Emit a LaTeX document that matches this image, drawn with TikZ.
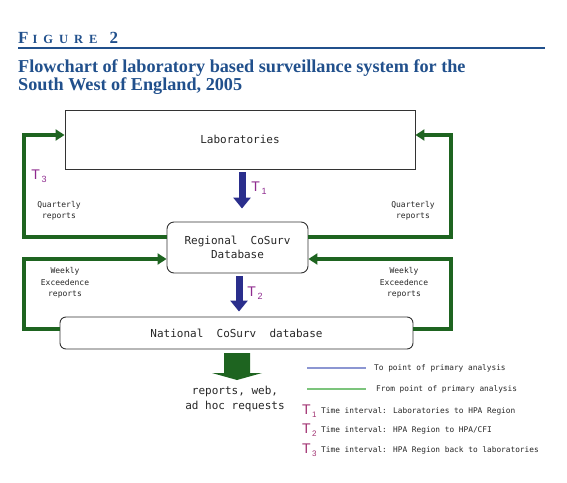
\documentclass[tikz,border=0pt]{standalone}
\usepackage{fontspec}
\setmainfont{Liberation Serif}
\newfontfamily\monof{DejaVu Sans Mono}
\newfontfamily\tfont{Liberation Sans}
\usetikzlibrary{arrows.meta,calc}
\definecolor{ttl}{HTML}{21508C}
\definecolor{grn}{HTML}{1E6420}
\definecolor{blu}{HTML}{2A2E8C}
\definecolor{purp}{HTML}{8E2A8E}
\definecolor{mag}{HTML}{A03070}
\definecolor{lblue}{HTML}{8C96D2}
\definecolor{lgreen}{HTML}{7CC47C}
\definecolor{edge}{HTML}{333333}
\begin{document}
\begin{tikzpicture}[x=1pt,y=-1pt,
  boxtext/.style={font=\monof\fontsize{11}{14}\selectfont, text=black!85},
  smalllab/.style={font=\monof\fontsize{8}{11.5}\selectfont, align=center, text=black!85},
  loop/.style={draw=grn, line width=3.6pt, line join=miter, -{Triangle[length=9pt,width=11pt]}},
  flow/.style={draw=blu, line width=7pt, -{Triangle[length=11pt,width=17pt]}},
  tlab/.style={font=\tfont\fontsize{14}{14}\selectfont, text=purp, inner sep=0pt},
  legt/.style={font=\tfont\fontsize{14}{14}\selectfont, text=mag, inner sep=0pt},
  legtext/.style={font=\monof\fontsize{7.8}{9}\selectfont, text=black!85, anchor=west, inner sep=0pt},
  ttltext/.style={anchor=base west, inner sep=0pt, text=ttl, font=\bfseries\fontsize{18.2}{20}\selectfont}]
\useasboundingbox (0,0) rectangle (567,482);
% title
\node[anchor=base west, inner sep=0pt, text=ttl, font=\bfseries] (fig) at (18,43)
  {\fontsize{17}{17}\selectfont F\hspace{4pt}\fontsize{12.5}{12}\selectfont I\hspace{6pt}G\hspace{6pt}U\hspace{6pt}R\hspace{6pt}E\hspace{12pt}\fontsize{17}{17}\selectfont 2};
\draw[ttl, line width=1.4pt] (18,48) -- (545,48);
\node[ttltext] (title1) at (18,72) {Flowchart of laboratory based surveillance system for the};
\node[ttltext] (title2) at (18,90) {South West of England, 2005};
% boxes
\node[draw=edge, line width=0.9pt, minimum width=350pt, minimum height=59pt, boxtext] (lab) at (240,139.5) {Laboratories};
\node[draw=edge, line width=0.9pt, rounded corners=7pt, minimum width=141pt, minimum height=51pt, boxtext, align=center] (reg) at (237.5,247.5) {Regional~~CoSurv\\Database};
\node[draw=edge, line width=0.9pt, rounded corners=6pt, minimum width=353pt, minimum height=32pt, boxtext] (nat) at (236.5,333) {National~~CoSurv~~database};
% loops
\coordinate (tl) at (24,135);
\coordinate (tr) at (451,135);
\coordinate (bl) at (24,259);
\coordinate (br) at (451,259);
\draw[loop] (reg.west |- 0,237) -| (tl) -- (lab.west |- tl);
\draw[loop] (reg.east |- 0,237) -| (tr) -- (lab.east |- tr);
\draw[loop] (nat.west |- 0,329) -| (bl) -- (reg.west |- bl);
\draw[loop] (nat.east |- 0,329) -| (br) -- (reg.east |- br);
% loop labels
\node[smalllab] (ql) at (59,211) {Quarterly\\reports};
\node[smalllab] (qr) at (413,211) {Quarterly\\reports};
\node[smalllab] (wl) at (65,283) {Weekly\\Exceedence\\reports};
\node[smalllab] (wr) at (404,283) {Weekly\\Exceedence\\reports};
\node[tlab] (t3) at (39,176) {T\raisebox{-3pt}{\fontsize{9}{9}\selectfont\,3}};
% blue flows
\draw[flow] ($(lab.south)+(2,3)$) -- ($(reg.north)+(4.5,-13)$);
\node[tlab] (t1) at (259,188) {T\raisebox{-3pt}{\fontsize{9}{9}\selectfont\,1}};
\draw[flow] ($(reg.south)+(1.5,3)$) -- ($(nat.north)+(2.5,-5)$);
\node[tlab] (t2) at (255,293) {T\raisebox{-3pt}{\fontsize{9}{9}\selectfont\,2}};
% green output arrow
\fill[grn] (224,353) -- (250,353) -- (250,373) -- (262,373) -- (237,380) -- (212,373) -- (224,373) -- cycle;
\coordinate (outtop) at (237,353);
\node[boxtext, align=center, font=\monof\fontsize{11}{15}\selectfont] (out) at (235,398.5) {reports, web,\\ad hoc requests};
% legend
\coordinate (lb1) at (307,368); \coordinate (lb2) at (366,368);
\draw[lblue, line width=1.2pt] (lb1) -- (lb2);
\node[legtext] (l1) at (374,368) {To point of primary analysis};
\coordinate (lg1) at (307,389); \coordinate (lg2) at (366,389);
\draw[lgreen, line width=1.2pt] (lg1) -- (lg2);
\node[legtext] (l2) at (376,389) {From point of primary analysis};
\node[legt, anchor=west] (lt1) at (302,411) {T\raisebox{-3pt}{\fontsize{8}{8}\selectfont\,1}};
\node[legtext] (l3) at (321,411) {Time interval: Laboratories to HPA Region};
\node[legt, anchor=west] (lt2) at (302,430) {T\raisebox{-3pt}{\fontsize{8}{8}\selectfont\,2}};
\node[legtext] (l4) at (321,430) {Time interval: HPA Region to HPA/CFI};
\node[legt, anchor=west] (lt3) at (302,450) {T\raisebox{-3pt}{\fontsize{8}{8}\selectfont\,3}};
\node[legtext] (l5) at (321,450) {Time interval: HPA Region back to laboratories};
\end{tikzpicture}
\end{document}
